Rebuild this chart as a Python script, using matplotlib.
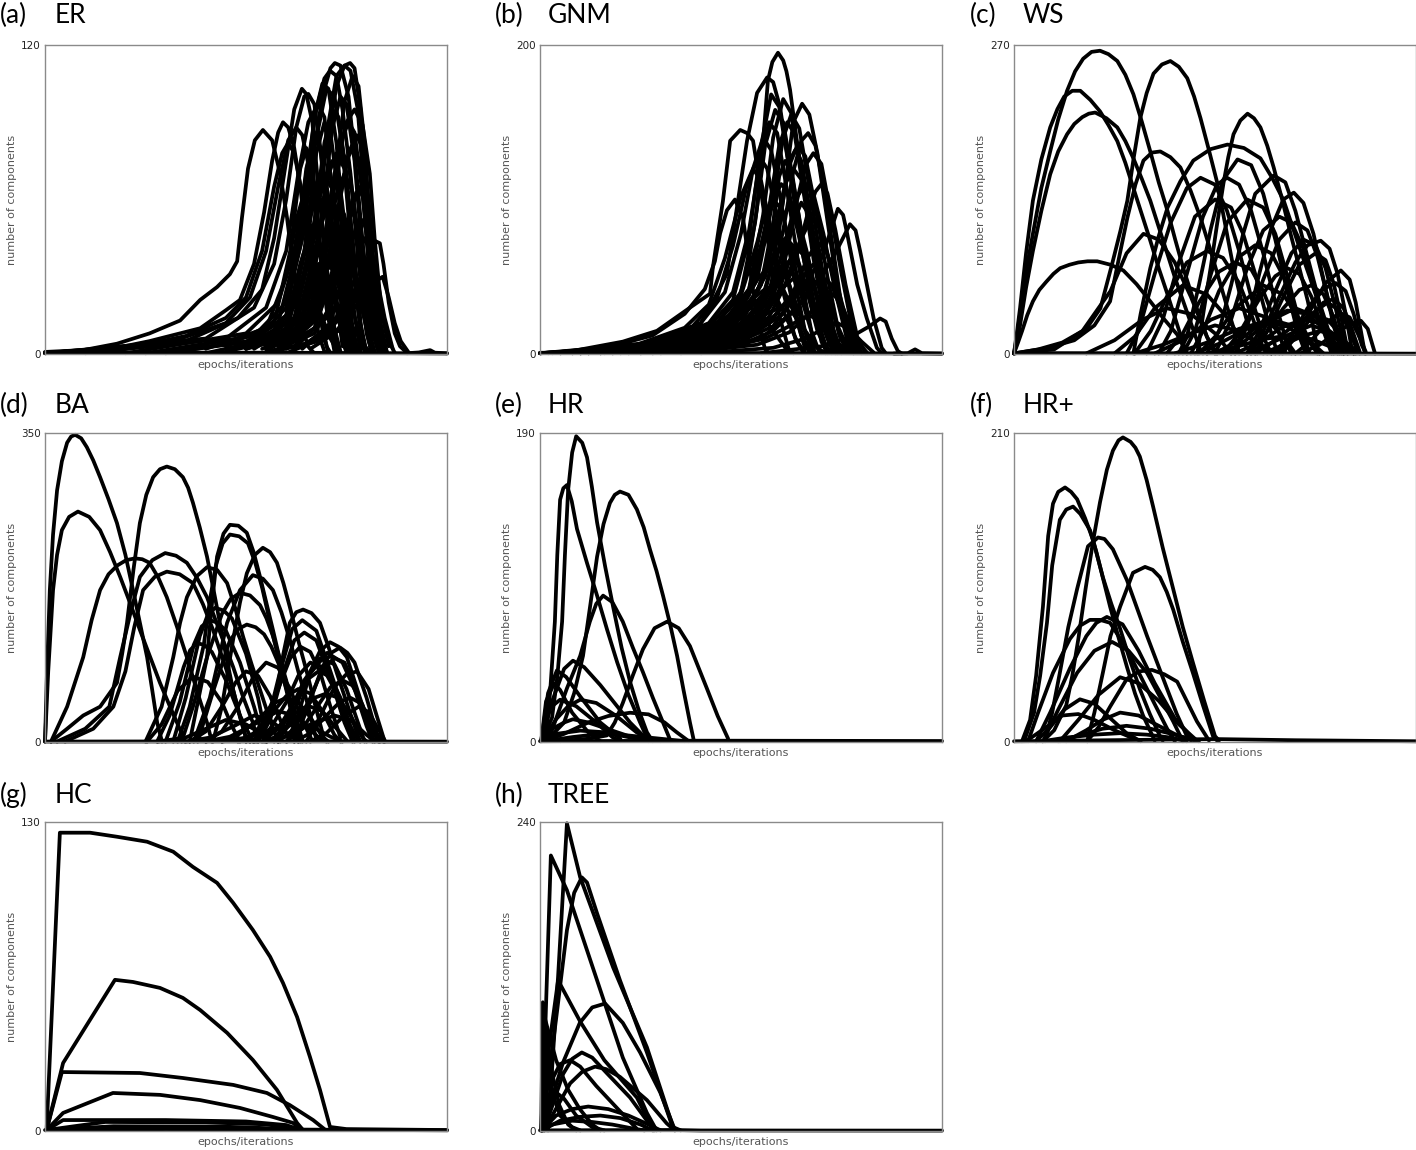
import matplotlib.pyplot as plt

# panel tags, names and y-axis top values
panel_tags = ['(a)', '(b)', '(c)', '(d)', '(e)', '(f)', '(g)', '(h)']
panel_names = ['ER', 'GNM', 'WS', 'BA', 'HR', 'HR+', 'HC', 'TREE']
y_max = [120, 200, 270, 350, 190, 210, 130, 240]

# every curve: (x in % of the run, number of components)
er_curves = [
    [(0, 0.8), (9.5, 1.5), (17.9, 4), (26, 8), (33.6, 13), (38.6, 21), (42.8, 26), (46, 31), (47.8, 36), (49, 53),
     (50.5, 72), (52.2, 83), (54.2, 87), (56.5, 83), (58.5, 70), (60.2, 53), (61.7, 34), (63.4, 14), (65.4, 3), (66.7, 0.8)],
    [(0, 0.5), (15, 1.5), (26, 5), (38.6, 10), (45, 17), (48.5, 21), (52, 35), (54.5, 55), (56.5, 75), (58, 86),
     (59.2, 90), (60.5, 88), (62, 80), (63.5, 65), (65, 45), (66.5, 25), (68, 8), (69.5, 1)],
    [(0, 0.5), (20, 2), (35, 7), (45, 14), (50, 22), (54, 40), (57, 65), (59, 78), (60.5, 82), (62, 78), (64, 62),
     (66, 40), (68, 18), (70, 3), (71, 0.5)],
    [(0, 0.3), (30, 4), (45, 12), (51, 22), (55, 40), (58, 65), (60.5, 83), (62.5, 88), (64, 85), (66, 70), (68, 45),
     (70, 20), (72, 4), (73, 0.5)],
    [(0, 0.3), (35, 5), (48, 14), (54, 25), (57, 45), (60, 75), (62, 95), (63.9, 103), (65, 101), (66.5, 90), (68, 65),
     (70, 35), (72, 10), (73.5, 1)],
    [(0, 0.3), (40, 6), (52, 18), (57, 35), (60, 60), (62.5, 88), (64.5, 100), (65.5, 101), (67, 97), (68.5, 80),
     (70, 55), (72, 25), (74, 5), (75, 0.5)],
    [(10, 0.3), (45, 6), (55, 18), (60, 40), (63, 70), (65.5, 90), (67.9, 97), (69.5, 92), (71, 70), (73, 40),
     (75, 12), (76.5, 1)],
    [(20, 0.3), (50, 8), (58, 20), (62, 40), (65, 70), (67.5, 95), (69.5, 107), (70.9, 110), (72.5, 108), (74, 95),
     (76, 70), (78, 35), (80, 8), (81.5, 0.5)],
    [(25, 0.3), (52, 7), (60, 20), (64, 45), (66.5, 75), (69, 100), (71, 111), (72.1, 113), (73.5, 112), (75.5, 100),
     (77.5, 70), (79.5, 35), (81.5, 8), (83, 0.5)],
    [(30, 0.3), (55, 6), (63, 20), (67, 45), (70, 80), (72.5, 104), (74.5, 112), (75.9, 113), (77, 111), (78.5, 95),
     (80, 65), (81.5, 35), (83, 12), (84.5, 1)],
    [(30, 0.3), (56, 6), (63, 22), (67, 50), (70, 85), (72.5, 108), (74.5, 112), (76, 110), (77.8, 95), (79.5, 60),
     (81, 30), (83, 6), (84, 0.5)],
    [(25, 0.3), (52, 5), (60, 18), (64, 45), (67, 80), (70, 103), (72, 100), (74, 80), (76, 45), (78, 15), (79.5, 1)],
    [(40, 0.3), (62, 8), (68, 30), (72, 70), (75, 90), (77, 95), (79, 89), (80.8, 70), (82, 45), (83.5, 20),
     (85.5, 5), (87, 0.5)],
    [(55, 0.3), (68, 5), (74, 15), (78, 28), (80.5, 38), (82, 44), (83.3, 43), (84.2, 35), (85.5, 20), (87, 8),
     (88.3, 3), (90, 0.5)],
    [(60, 0.3), (72, 8), (78, 20), (82, 28), (84, 30), (85.5, 22), (87, 12), (88.5, 5), (90.5, 0.5)],
    [(40, 2), (55, 10), (60, 30), (62.5, 52), (64, 60), (65.5, 55), (67, 35), (69, 10), (70.5, 0.5)],
    [(45, 3), (57, 12), (61, 40), (63.5, 72), (65, 80), (66.5, 74), (68, 50), (70, 18), (72, 1)],
    [(50, 3), (60, 12), (63.5, 35), (66.5, 50), (68.5, 42), (70.5, 20), (72.5, 2)],
    [(48, 3), (58, 12), (62.5, 40), (65, 72), (67, 85), (68.5, 80), (70, 60), (72, 28), (74, 3)],
    [(52, 3), (61, 14), (65, 42), (67, 62), (68.5, 70), (70, 66), (72, 45), (74, 15), (75.5, 1)],
    [(50, 3), (60, 12), (64.5, 40), (67.5, 78), (69.5, 90), (71, 86), (73, 62), (75, 28), (77, 2)],
    [(55, 3), (63, 14), (67, 40), (70.5, 60), (72.5, 55), (74.5, 30), (76.5, 5), (77.5, 0.5)],
    [(52, 3), (62, 14), (66.5, 45), (69.5, 82), (71.5, 95), (73, 92), (75, 70), (77, 35), (79, 4)],
    [(56, 3), (64, 15), (68, 45), (70.5, 70), (72.5, 78), (74.5, 72), (76.5, 45), (78.5, 12), (80, 0.5)],
    [(55, 3), (64, 14), (68.5, 50), (71.5, 88), (73.5, 100), (75, 97), (77, 75), (79, 38), (81, 5), (82, 0.5)],
    [(58, 3), (66, 15), (70, 40), (72.5, 62), (74.5, 70), (76.5, 63), (78.5, 38), (80.5, 10), (82, 0.5)],
    [(57, 3), (66, 15), (70.5, 50), (73.5, 82), (75.5, 90), (77, 86), (79, 62), (81, 28), (83, 3)],
    [(60, 3), (68, 14), (72, 35), (74.5, 50), (76.5, 55), (78.5, 48), (80.5, 25), (82.5, 5), (83.5, 0.5)],
    [(58, 3), (67, 15), (72, 48), (75.5, 78), (77.5, 85), (79, 80), (80.5, 60), (82, 30), (84, 4)],
    [(62, 3), (70, 14), (74, 38), (76.5, 58), (78.5, 65), (80, 58), (81.5, 38), (83.5, 12), (85, 1)],
    [(64, 3), (72, 12), (76, 30), (79.5, 45), (81.5, 38), (83.5, 18), (85.5, 3)],
    [(50, 2), (60, 8), (64.5, 22), (68, 35), (70.5, 30), (73, 14), (75, 2)],
    [(55, 2), (64, 9), (68.5, 26), (72, 40), (74.5, 34), (77, 15), (79, 2)],
    [(58, 2), (67, 8), (71.5, 20), (75, 30), (77.5, 26), (80, 10), (82, 1)],
    [(50, 2), (60, 6), (66, 15), (70, 25), (72.5, 20), (75, 8), (77, 1)],
    [(45, 1), (57, 5), (62.5, 12), (66, 20), (68.5, 16), (71, 6), (73, 0.5)],
    [(62, 2), (70, 8), (75, 18), (78, 25), (80.5, 20), (83, 8), (85, 1)],
    [(66, 2), (74, 10), (78, 24), (81, 35), (82.5, 30), (84.5, 14), (86.5, 2)],
    [(55, 1), (65, 4), (70, 9), (73.5, 15), (76, 12), (79, 4), (81, 0.5)],
    [(60, 3), (68, 20), (71.5, 60), (74.5, 98), (76.5, 108), (78, 104), (79.5, 82), (81, 45), (82.5, 15), (84, 1)],
    [(50, 3), (60, 15), (64, 50), (67, 92), (69, 105), (70.5, 103), (72.5, 82), (74.5, 45), (76.5, 10), (78, 0.5)],
    [(55, 2), (64, 12), (68, 40), (70, 65), (71.5, 75), (73, 70), (75, 45), (77, 15), (78.5, 1)],
    [(58, 2), (66, 14), (70, 45), (72.5, 70), (74, 78), (75.5, 74), (77.5, 50), (79.5, 18), (81, 1)],
    [(52, 2), (62, 12), (66, 40), (68.5, 62), (70, 68), (71.5, 64), (73.5, 42), (75.5, 14), (77, 1)],
    [(60, 2), (68, 16), (72, 48), (75, 75), (76.5, 80), (78, 76), (79.5, 55), (81, 25), (82.5, 3)],
    [(56, 2), (65, 12), (69, 38), (71.5, 55), (73, 58), (74.5, 54), (76.5, 34), (78.5, 10), (80, 0.5)],
    [(62, 2), (70, 15), (74, 42), (76.5, 60), (78, 64), (79.5, 60), (81, 40), (82.5, 15), (84, 1)],
    [(50, 2), (60, 10), (64.5, 32), (67.5, 55), (69, 60), (70.5, 56), (72.5, 36), (74.5, 10), (76, 0.5)],
    [(64, 2), (71, 12), (75, 35), (77.5, 50), (79, 52), (80.5, 46), (82, 28), (83.5, 8), (85, 0.5)],
    [(58, 2), (67, 10), (71, 28), (73.5, 40), (75, 42), (76.5, 38), (78.5, 22), (80.5, 5), (81.5, 0.5)],
    [(54, 2), (63, 8), (67, 22), (69.5, 32), (71, 34), (72.5, 30), (74.5, 16), (76.5, 3)],
    [(90, 0.3), (93, 0.6), (95.8, 1.5), (97, 0.5), (100, 0.3)],
    [(0, 0.6), (60, 0.5), (91, 0.3), (100, 0.2)],
]

gnm_curves = [
    [(0, 0.5), (15, 2), (25, 5), (35, 10), (42, 18), (48, 26), (51.5, 52), (54, 95), (55.5, 138), (56.7, 177),
     (57.8, 189), (59.2, 195), (60.5, 190), (61.3, 183), (62.2, 171), (63.9, 138), (66.4, 95), (69.7, 52), (73.9, 19),
     (76.5, 4), (78, 0.5)],
    [(0, 0.5), (20, 3), (32, 9), (40, 20), (43, 34), (46.5, 52), (49, 95), (51.5, 138), (54, 169), (56.5, 179),
     (58, 176), (59.7, 160), (62.2, 117), (65.4, 73), (69.7, 30), (73.9, 4), (75, 0.5)],
    [(0, 0.5), (8.2, 2), (20.6, 8), (29.1, 15), (37.3, 30), (42.3, 39), (43, 56), (45.5, 99), (47.3, 138), (49.8, 145),
     (51.5, 143), (53, 138), (54.7, 110), (56.5, 78), (58, 45), (59.7, 23), (62, 2), (63, 0.5)],
    [(0, 0.5), (15, 3), (28, 12), (36, 26), (41, 42), (43.5, 60), (44.8, 78), (46.5, 93), (48.5, 100), (50.5, 88),
     (52.2, 56), (54, 23), (56, 3), (57, 0.5)],
    [(10, 0.5), (35, 6), (48, 18), (56, 40), (59.5, 80), (61.5, 120), (63, 150), (65.2, 162), (67, 155), (69, 130),
     (71, 95), (73, 60), (75, 28), (77.5, 3)],
    [(10, 0.5), (38, 6), (50, 18), (57, 40), (60.5, 80), (63, 118), (65, 138), (66.7, 143), (68.5, 135), (70.5, 110),
     (72.5, 75), (74.5, 40), (76.5, 10), (78, 0.5)],
    [(30, 0.5), (50, 8), (60, 25), (66, 45), (70, 62), (72.1, 78), (74.1, 94), (75.4, 90), (76.4, 78), (78.9, 45),
     (81.3, 23), (83.8, 4), (85, 0.5)],
    [(35, 0.5), (55, 10), (64, 30), (70, 50), (74, 68), (77.1, 84), (78.5, 80), (79.6, 67), (81.3, 45), (83, 23),
     (85, 4), (86, 0.5)],
    [(55, 0.5), (70, 5), (78, 12), (82, 18), (84.6, 23), (86, 21), (87.5, 10), (89, 2), (90, 0.3)],
    [(5, 0.5), (30, 6), (42, 18), (48, 35), (52, 75), (55, 135), (57.5, 168), (59.5, 160), (62, 120), (65, 70),
     (68, 30), (71, 5), (72.5, 0.5)],
    [(8, 0.5), (32, 7), (44, 20), (50, 40), (53.5, 85), (56, 135), (58.5, 158), (60.5, 150), (63, 112), (66, 62),
     (69, 22), (71.5, 2)],
    [(10, 0.5), (34, 7), (46, 20), (52, 42), (55.5, 90), (58, 140), (60.5, 165), (62.5, 156), (65, 115), (68, 62),
     (71, 20), (73.5, 1)],
    [(12, 0.5), (36, 8), (47, 22), (53, 45), (57, 95), (59.5, 135), (61.5, 150), (63.5, 142), (66, 105), (69, 55),
     (72, 15), (74, 1)],
    [(15, 0.5), (38, 8), (48, 22), (54, 48), (58, 100), (60.5, 140), (62.5, 155), (64.5, 146), (67, 108), (70, 58),
     (73, 16), (75, 1)],
    [(5, 0.5), (30, 7), (42, 20), (48, 40), (52, 80), (55, 130), (57, 150), (59, 143), (61.5, 105), (64.5, 55),
     (67.5, 15), (69.5, 1)],
    [(3, 0.5), (28, 7), (40, 20), (46, 40), (50, 78), (53, 120), (55.5, 140), (57.5, 132), (60, 98), (63, 52),
     (66, 14), (68, 1)],
    [(2, 0.5), (26, 7), (38, 18), (44, 36), (48, 70), (51.5, 110), (54.5, 128), (56.5, 120), (59, 88), (62, 45),
     (65, 12), (67, 1)],
    [(0, 0.5), (24, 6), (36, 17), (42, 32), (46, 62), (50, 102), (53, 120), (55, 112), (57.5, 80), (60.5, 40),
     (63.5, 10), (65.5, 1)],
    [(18, 0.5), (40, 8), (50, 24), (56, 50), (60, 95), (62, 122), (64, 135), (66, 128), (68.5, 95), (71.5, 50),
     (74.5, 12), (76.5, 1)],
    [(16, 0.5), (38, 8), (49, 22), (55, 45), (59, 88), (61, 110), (63, 120), (65, 113), (67.5, 82), (70.5, 42),
     (73.5, 10), (75.5, 1)],
    [(12, 0.5), (35, 8), (46, 22), (52, 42), (56, 80), (58, 100), (60, 110), (62, 104), (64.5, 75), (67.5, 38),
     (70.5, 8), (72.5, 0.5)],
    [(8, 0.5), (32, 7), (44, 20), (50, 38), (54, 72), (56, 92), (58, 100), (60, 94), (62.5, 68), (65.5, 32),
     (68.5, 6), (70, 0.5)],
    [(15, 0.5), (38, 7), (48, 20), (54, 40), (58, 72), (60, 88), (62, 95), (64, 90), (66.5, 65), (69.5, 30),
     (72, 6), (73.5, 0.5)],
    [(20, 0.5), (42, 8), (52, 22), (58, 45), (62, 82), (64, 102), (66, 110), (68, 104), (70.5, 78), (73.5, 40),
     (76.5, 8), (78, 0.5)],
    [(25, 0.5), (45, 8), (55, 22), (61, 45), (64.5, 72), (67.5, 88), (69.5, 83), (72, 60), (75, 28), (78, 4), (79, 0.5)],
    [(28, 0.5), (48, 8), (57, 20), (63, 40), (66.5, 62), (69, 72), (71, 68), (73.5, 48), (76.5, 20), (79, 2)],
    [(12, 0.5), (36, 7), (47, 18), (53, 35), (57, 58), (61, 75), (63, 70), (65.5, 50), (68.5, 22), (71, 3)],
    [(8, 0.5), (32, 6), (44, 15), (50, 30), (54, 48), (58, 60), (60.5, 55), (63, 38), (66, 14), (68.5, 1)],
    [(15, 0.5), (40, 6), (50, 15), (56, 28), (60, 42), (63.5, 50), (66, 45), (68.5, 30), (71.5, 10), (73.5, 0.5)],
    [(5, 0.5), (30, 5), (42, 12), (48, 22), (52, 34), (56, 42), (58.5, 38), (61, 25), (64, 8), (66, 0.5)],
    [(18, 0.5), (42, 5), (52, 12), (58, 24), (62, 35), (65, 40), (67.5, 36), (70, 22), (73, 6), (75, 0.5)],
    [(30, 0.5), (50, 6), (58, 15), (64, 30), (67.5, 44), (70, 50), (72.5, 45), (75, 28), (78, 8), (80, 0.5)],
    [(35, 0.5), (54, 6), (62, 14), (67, 26), (70, 36), (72, 40), (74.5, 35), (77, 20), (80, 5), (81.5, 0.5)],
    [(10, 0.5), (35, 4), (46, 10), (53, 20), (57, 27), (60, 30), (63, 26), (66, 15), (69, 4), (71, 0.5)],
    [(25, 0.5), (46, 4), (56, 10), (62, 18), (65, 23), (67, 25), (70, 21), (73, 11), (76, 2)],
    [(0, 0.5), (25, 4), (37, 10), (44, 18), (49, 26), (52, 30), (55, 26), (58, 15), (61, 4), (63, 0.5)],
    [(40, 0.5), (58, 4), (66, 10), (71, 17), (74, 20), (77, 16), (80, 8), (83, 1)],
    [(28, 0.5), (48, 8), (57, 24), (63, 55), (66.5, 90), (68.5, 105), (70, 110), (71.5, 104), (73.5, 80), (76, 45),
     (79, 10), (81, 0.5)],
    [(22, 0.5), (44, 8), (54, 24), (60, 55), (64, 100), (66, 122), (68, 130), (70, 123), (72, 95), (75, 52),
     (78, 12), (80, 0.5)],
    [(20, 0.5), (44, 8), (54, 25), (58, 60), (60.5, 100), (62, 125), (63.5, 132), (65, 125), (67, 95), (70, 45),
     (72.5, 8), (74, 0.5)],
    [(15, 0.5), (40, 7), (50, 20), (55, 45), (58, 85), (59.5, 115), (61, 125), (62.5, 118), (64.5, 88), (67.5, 40),
     (70, 8), (71.5, 0.5)],
    [(25, 0.5), (46, 8), (55, 22), (60, 50), (63, 85), (65, 98), (66.5, 92), (68.5, 68), (71, 35), (73.5, 6), (75, 0.5)],
    [(10, 0.5), (36, 6), (47, 18), (52, 38), (55.5, 70), (57.5, 82), (59, 78), (61, 55), (63.5, 25), (66, 3)],
    [(22, 0.5), (44, 6), (54, 18), (59, 38), (62, 60), (64, 68), (66, 63), (68, 45), (70.5, 18), (73, 2)],
    [(18, 0.5), (42, 6), (52, 18), (57, 35), (60.5, 55), (62.5, 62), (64.5, 57), (66.5, 40), (69, 15), (71.5, 1)],
    [(28, 0.5), (48, 6), (58, 18), (63, 36), (66, 52), (68, 58), (70, 53), (72, 36), (74.5, 12), (77, 1)],
    [(12, 0.5), (38, 5), (48, 14), (53, 28), (56.5, 42), (58.5, 46), (60.5, 42), (63, 28), (66, 8), (68, 0.5)],
    [(88, 0.3), (91.5, 0.5), (93.3, 3), (95, 0.5), (100, 0.3)],
    [(0, 0.8), (60, 0.6), (88, 0.4), (100, 0.3)],
]

ws_curves = [
    [(0, 0.5), (0.7, 15), (1.5, 35), (3, 72), (4.7, 105), (6.8, 145), (9, 177), (11, 205), (13.2, 230), (15.2, 247),
     (17.2, 258), (19.3, 264), (21.4, 265), (23.5, 262), (25.7, 256), (27.7, 244), (29.7, 227), (31.8, 203),
     (33.9, 177), (36, 150), (38.2, 125), (40.1, 100), (42.1, 75), (44.2, 52), (46.4, 31), (48, 15), (49.6, 3),
     (50.5, 0.5)],
    [(0, 0.5), (0.7, 18), (1.5, 40), (3, 88), (4.7, 134), (6.8, 170), (9, 198), (10.8, 214), (12.5, 225), (14.5, 230),
     (16.5, 230), (19, 222), (21.4, 212), (23.5, 200), (25.7, 186), (27.7, 167), (29.7, 145), (31.8, 122), (33.9, 99),
     (36, 75), (38.2, 52), (40.2, 30), (42.1, 9), (43, 0.5)],
    [(0, 0.5), (0.7, 10), (1.5, 25), (3, 58), (4.7, 90), (6.8, 125), (9, 157), (11, 177), (13.2, 192), (15, 201),
     (17, 207), (18.6, 210), (20.2, 211), (23, 206), (25.7, 198), (27.7, 186), (29.7, 171), (31.8, 153), (33.9, 134),
     (36, 111), (38.2, 87), (40.1, 66), (42.1, 46), (44.3, 24), (46.4, 3), (47, 0.5)],
    [(0, 0.5), (1, 10), (2, 20), (3.3, 34), (4.7, 46), (6.3, 56), (8, 63), (9.8, 70), (11.5, 75), (13.8, 78), (16, 80),
     (18.3, 81), (20.7, 81), (24, 78), (27.2, 73), (30.5, 61), (33.9, 46), (37.2, 31), (40.6, 17), (43, 0.5)],
    [(0, 0.5), (6, 4), (12, 10), (18, 22), (21.5, 40), (24.5, 80), (26.5, 108), (28.2, 134), (29.8, 172), (31.4, 206),
     (33, 228), (34.7, 245), (36.8, 253), (38.9, 256), (41, 251), (43.1, 241), (44.8, 225), (46.4, 206), (48.5, 178),
     (50.6, 149), (52.6, 112), (54.6, 75), (56.8, 43), (58.9, 17), (60.5, 0.5)],
    [(45.6, 0.5), (47.2, 38), (48.9, 75), (50.5, 113), (52.1, 149), (53.3, 172), (54.6, 192), (56.3, 204),
     (58.1, 210), (59.7, 206), (61.3, 198), (63, 182), (64.6, 163), (66.7, 135), (68.8, 105), (71, 75), (73.1, 46),
     (74.5, 22), (75.6, 3), (76, 0.5)],
    [(29.7, 0.5), (31.5, 35), (33.9, 75), (36, 103), (38.2, 128), (41.4, 151), (44.6, 169), (48.9, 179), (53.1, 183),
     (57.2, 180), (61.3, 171), (64.2, 154), (67.1, 134), (69.2, 112), (71.3, 90), (73.5, 68), (75.6, 46), (77.7, 24),
     (79.8, 3), (80.5, 0.5)],
    [(0, 0.5), (8, 5), (15, 12), (20, 25), (23.9, 46), (26, 82), (28.2, 119), (30.2, 148), (32.2, 169), (34.3, 176),
     (36.4, 177), (38.9, 172), (41.4, 163), (43.9, 143), (46.4, 119), (48.5, 95), (50.6, 70), (52.6, 46), (54.6, 23),
     (56, 0.5)],
    [(41, 0.5), (43, 15), (46, 60), (49, 110), (52, 152), (55.6, 170), (59, 165), (62, 140), (65, 100), (68, 55),
     (70.5, 20), (72.5, 1)],
    [(48, 0.5), (51, 20), (54, 60), (57, 105), (60, 140), (64.6, 156), (67.5, 150), (70, 125), (73, 85), (76, 45),
     (79, 12), (81, 0.5)],
    [(55, 0.5), (58, 25), (61, 70), (64, 110), (67, 135), (69.6, 141), (72, 132), (74.5, 105), (77, 65), (79.5, 25),
     (81.5, 1)],
    [(28, 0.5), (31, 20), (35, 70), (39, 115), (43, 145), (46.4, 154), (50, 148), (53, 125), (56, 90), (59, 50),
     (62, 15), (64, 0.5)],
    [(33, 0.5), (37, 30), (41, 80), (45, 120), (50, 135), (54, 128), (57, 105), (60, 70), (63, 30), (65.5, 1)],
    [(50, 0.5), (54, 30), (58, 75), (62, 108), (66, 120), (69, 115), (72, 92), (75, 55), (77.5, 20), (79.5, 0.5)],
    [(58.9, 0.5), (62, 20), (66, 50), (70, 80), (73, 95), (76.3, 99), (78.5, 92), (80.5, 70), (82.5, 35), (84, 5),
     (84.5, 0.5)],
    [(66.8, 0.5), (70, 15), (74, 40), (77.5, 62), (81.3, 73), (83.5, 65), (85, 45), (86.3, 20), (87.3, 0.5)],
    [(71.3, 0.5), (76, 8), (80, 18), (83.5, 26), (86.3, 29), (88, 22), (89, 10), (89.8, 0.5)],
    [(60, 0.5), (63, 20), (67, 50), (71, 78), (75, 88), (77.5, 82), (79.5, 62), (81.5, 30), (83, 3)],
    [(54, 0.5), (58, 25), (62, 65), (66, 100), (70, 115), (73, 108), (75.5, 85), (78, 50), (80.5, 15), (82, 0.5)],
    [(58, 0.5), (61, 20), (65, 55), (69, 88), (72, 100), (75, 95), (77.5, 75), (80, 40), (82, 10), (83, 0.5)],
    [(0, 0.5), (10, 4), (17, 20), (20, 35), (24, 55), (28, 88), (32.2, 105), (36, 100), (40, 80), (44, 50), (48, 15),
     (50.5, 0.5)],
    [(44, 0.5), (47, 20), (51, 55), (56, 85), (60, 95), (64, 88), (67, 68), (70, 35), (72.5, 5)],
    [(38, 0.5), (42, 18), (46, 45), (51, 72), (55, 80), (59, 74), (62, 55), (65, 28), (67.5, 1)],
    [(30, 0.5), (34, 20), (38, 50), (43, 80), (48, 90), (52, 84), (56, 62), (59, 35), (62, 5), (63, 0.5)],
    [(25, 0.5), (30, 15), (35, 40), (42, 60), (48, 52), (53, 32), (57, 10), (59, 0.5)],
    [(46, 0.5), (50, 15), (55, 40), (62, 60), (67, 52), (71, 30), (74, 8), (75.5, 0.5)],
    [(52, 0.5), (56, 18), (61, 48), (65, 68), (68, 75), (71, 70), (74, 50), (77, 20), (79, 0.5)],
    [(58, 0.5), (62, 15), (67, 40), (71, 56), (74, 60), (77, 52), (79.5, 32), (81.5, 10), (83, 0.5)],
    [(64, 0.5), (68, 12), (72, 30), (78, 45), (81, 38), (83.5, 20), (85.5, 2)],
    [(52, 0.5), (57, 10), (63, 28), (70, 40), (75, 33), (79, 15), (81.5, 0.5)],
    [(35, 0.5), (42, 12), (49, 30), (56, 40), (62, 33), (67, 15), (70, 0.5)],
    [(45, 0.5), (51, 9), (58, 22), (64, 30), (70, 24), (74, 10), (77, 0.5)],
    [(18, 0.5), (25, 12), (32, 30), (38, 40), (44, 35), (50, 18), (54, 0.5)],
    [(30, 0.5), (37, 8), (44, 18), (50, 25), (56, 20), (61, 8), (64, 0.5)],
    [(58, 0.5), (63, 8), (69, 18), (74, 25), (78, 20), (82, 8), (84.5, 0.5)],
    [(65, 0.5), (69, 15), (73, 40), (77, 57), (80, 62), (82.5, 55), (84.5, 35), (86.5, 8), (87.5, 0.5)],
    [(36, 0.5), (39, 20), (43, 70), (47, 120), (50.5, 148), (53, 154), (56, 148), (59, 125), (62, 88), (65, 45),
     (68, 8), (69, 0.5)],
    [(42, 0.5), (45, 20), (49, 70), (53, 115), (58, 135), (62, 128), (65, 105), (68, 68), (71, 28), (73.5, 1)],
    [(50, 0.5), (56, 12), (62, 28), (68, 38), (73, 35), (77, 22), (80, 8), (82, 0.5)],
    [(55, 0.5), (61, 10), (67, 24), (72, 30), (76, 27), (80, 16), (83, 5), (84.5, 0.5)],
    [(60, 0.5), (65, 12), (70, 26), (74.5, 33), (78, 30), (81, 18), (83.5, 5), (85, 0.5)],
    [(40, 0.5), (48, 10), (56, 22), (62, 28), (68, 24), (73, 12), (76, 0.5)],
    [(62, 0.5), (67, 8), (72, 16), (76, 20), (80, 17), (83, 9), (86, 0.5)],
    [(48, 0.5), (55, 6), (62, 13), (68, 16), (74, 13), (79, 6), (82, 0.5)],
    [(66, 0.5), (70, 14), (74, 32), (77, 45), (79.5, 48), (82, 40), (84, 22), (86, 2)],
    [(70, 0.5), (74, 12), (78, 28), (81, 36), (83.5, 32), (85.5, 18), (87.5, 2)],
    [(0, 0.8), (60, 0.6), (90, 0.4), (100, 0.3)],
]

ba_curves = [
    [(0, 0.5), (0.5, 80), (1.2, 172), (2, 235), (3, 285), (4.2, 318), (5.5, 339), (6.5, 346), (7.5, 348), (9, 344),
     (10.4, 334), (12, 319), (13.7, 300), (15.8, 275), (17.9, 248), (20, 212), (21.9, 172), (23.7, 133), (25.4, 96),
     (26.7, 58), (27.9, 22), (29.1, 0.5)],
    [(0, 0.5), (0.8, 80), (2, 172), (3, 212), (4.2, 240), (6, 255), (8.2, 261), (11, 255), (13.7, 240), (16.2, 215),
     (18.7, 187), (21.2, 157), (23.6, 127), (26.1, 97), (28.6, 67), (31.1, 40), (33.6, 14), (34.8, 0.5)],
    [(1.5, 0.5), (5.5, 15), (9.5, 30), (13.7, 40), (17.9, 67), (19.2, 100), (20.4, 135), (22, 195), (23.6, 248),
     (25.2, 280), (26.9, 300), (28.6, 309), (30.3, 312), (32.3, 309), (34.3, 300), (35.6, 288), (36.8, 271),
     (38.5, 243), (40.3, 210), (41.9, 173), (43.5, 135), (45.1, 96), (46.8, 59), (48.5, 28), (50.2, 2), (51, 0.5)],
    [(1.5, 0.5), (5.5, 40), (9.5, 96), (11.6, 138), (13.7, 172), (15.8, 190), (18, 200), (20.2, 206), (22.4, 208),
     (24.2, 207), (26, 203), (28.2, 186), (30.3, 164), (32.8, 131), (35.3, 96), (37.8, 58), (40.3, 22), (41.5, 0.5)],
    [(3, 0.5), (10, 15), (16, 40), (18.7, 96), (21.2, 145), (23.6, 187), (26.7, 206), (29.9, 214), (32.6, 211),
     (35.3, 203), (37.8, 186), (40.3, 164), (43.5, 125), (46.8, 85), (49.2, 52), (51.7, 22), (53, 0.5)],
    [(5, 0.5), (12, 15), (17, 40), (20, 80), (22.2, 130), (24.4, 172), (27.3, 187), (30.3, 193), (33.5, 190),
     (36.8, 180), (39.3, 156), (41.8, 127), (44.3, 93), (46.8, 59), (50, 4), (51, 0.5)],
    [(25, 0.5), (29, 40), (31.9, 96), (33.6, 135), (35.3, 164), (37.8, 188), (40.3, 198), (42.8, 195), (45.3, 180),
     (47.3, 152), (49.3, 119), (51.4, 88), (53.5, 59), (55.6, 30), (57.7, 4), (58.5, 0.5)],
    [(34, 0.5), (36.8, 40), (40.3, 96), (41.6, 160), (42.8, 210), (44.4, 236), (46, 246), (48.1, 245), (50.2, 237),
     (51.9, 215), (53.5, 187), (55.1, 157), (56.7, 127), (58.5, 92), (60.2, 59), (61.8, 30), (63.4, 6), (64, 0.5)],
    [(33, 0.5), (36, 40), (39.5, 110), (41, 160), (42.5, 200), (44.2, 225), (46, 235), (48.3, 233), (50.5, 225),
     (52.3, 203), (54, 175), (55.5, 145), (57, 115), (58.8, 82), (60.5, 50), (62.5, 5), (63, 0.5)],
    [(41.8, 0.5), (44, 40), (46.8, 116), (48.5, 158), (50.2, 191), (52.2, 212), (54.2, 220), (56, 215), (57.7, 203),
     (59.3, 180), (60.9, 153), (63, 115), (65.2, 78), (67.3, 40), (69.4, 4), (70, 0.5)],
    [(37, 0.5), (41, 50), (45.3, 135), (48.5, 172), (51.7, 189), (54.2, 185), (56.7, 172), (58.8, 147), (60.9, 116),
     (63, 80), (65.2, 45), (67.5, 3)],
    [(36, 0.5), (40.3, 96), (44, 145), (46.2, 162), (48.5, 169), (51, 166), (53.5, 155), (55.1, 140), (56.7, 120),
     (58.3, 96), (60, 70), (62.5, 15), (63.5, 0.5)],
    [(38, 0.5), (42, 60), (46, 115), (48.1, 128), (50.2, 133), (52.4, 130), (54.5, 122), (56.3, 108), (58, 90),
     (61.5, 40), (64, 3)],
    [(31.9, 0.5), (35, 50), (38.5, 120), (40.4, 143), (42.3, 152), (44.4, 149), (46.5, 140), (50, 100), (53, 50),
     (55.2, 0.5)],
    [(30, 0.5), (33.5, 45), (37, 110), (39, 131), (41, 138), (43, 135), (45, 126), (48.5, 90), (52, 40), (54.5, 0.5)],
    [(27.9, 0.5), (31, 30), (34.5, 85), (36.1, 104), (37.8, 112), (39.6, 110), (41.5, 102), (45, 70), (48.5, 30),
     (51.7, 0.5)],
    [(25.4, 0.5), (29, 20), (33, 58), (36.8, 74), (40.5, 68), (44, 45), (46.5, 18), (48.5, 0.5)],
    [(52, 0.5), (55, 20), (57.7, 59), (59.3, 100), (60.9, 135), (62.5, 147), (64.2, 150), (66.3, 146), (68.4, 135),
     (70.5, 108), (72.6, 78), (76.7, 22), (78.4, 0.5)],
    [(52.5, 0.5), (55.5, 25), (58.5, 80), (61.5, 128), (64, 138), (67.5, 126), (71, 80), (75, 25), (77, 0.5)],
    [(53, 0.5), (56, 25), (59, 75), (62, 115), (64.5, 124), (67.5, 115), (71, 72), (74.5, 22), (76.5, 0.5)],
    [(60.2, 0.5), (63, 30), (66, 80), (68.4, 103), (70.9, 113), (73, 108), (75.1, 96), (78, 55), (81.6, 4), (83.3, 0.5)],
    [(62, 0.5), (65, 35), (69, 85), (71.2, 101), (73.4, 107), (75.2, 101), (77, 90), (80, 50), (82.5, 10), (84.2, 0.5)],
    [(65, 0.5), (68, 25), (72, 62), (74.8, 76), (77.6, 80), (80.5, 60), (82.5, 30), (84.5, 0.5)],
    [(58, 0.5), (61.5, 30), (65.5, 75), (70.2, 101), (74, 90), (77, 60), (80, 18), (81.5, 0.5)],
    [(57, 0.5), (60.5, 30), (64.5, 70), (68.5, 95), (72, 88), (75, 60), (78, 20), (79.5, 0.5)],
    [(52, 0.5), (56, 15), (60, 45), (63, 75), (66, 90), (69, 85), (72, 60), (75, 25), (77, 2)],
    [(54, 0.5), (58, 15), (62, 45), (65, 70), (68, 80), (71, 74), (73.5, 50), (76, 18), (78, 1)],
    [(58, 0.5), (62, 15), (66, 50), (69, 82), (72, 95), (74.5, 90), (77, 65), (79.5, 28), (81.5, 2)],
    [(60, 0.5), (64, 15), (68, 42), (71, 62), (74, 70), (76.5, 64), (79, 42), (81.5, 12), (83, 0.5)],
    [(48, 0.5), (52, 10), (56, 30), (60, 52), (63, 60), (66, 55), (69, 35), (72, 8), (73.5, 0.5)],
    [(44, 0.5), (48, 8), (53, 25), (57, 44), (60, 50), (63, 45), (66, 28), (69, 6), (70.5, 0.5)],
    [(55, 0.5), (59, 10), (63, 30), (67, 50), (70, 55), (73, 50), (76, 30), (79, 5), (80, 0.5)],
    [(62, 0.5), (66, 10), (70, 30), (73.5, 46), (76, 50), (78.5, 44), (81, 25), (83, 4)],
    [(50, 0.5), (55, 8), (60, 24), (63.5, 37), (66, 40), (69, 35), (72, 18), (75, 2)],
    [(40, 0.5), (46, 6), (52, 20), (58, 35), (62, 30), (66, 14), (69, 1)],
    [(55, 0.5), (60, 6), (66, 20), (72, 30), (76, 25), (79.5, 10), (82, 0.5)],
    [(35, 0.5), (41, 5), (47, 18), (52, 30), (56, 25), (60, 10), (63, 0.5)],
    [(28, 0.5), (35, 5), (40, 15), (45, 25), (50, 20), (55, 6), (58, 0.5)],
    [(44, 0.5), (50, 5), (56, 13), (62, 20), (67, 16), (71, 6), (74, 0.5)],
    [(66, 0.5), (70, 10), (74, 28), (78, 40), (80.5, 34), (82.5, 18), (84.5, 2)],
    [(40, 0.5), (44, 12), (48, 40), (52, 75), (55, 90), (58, 84), (61, 60), (64, 25), (66.5, 1)],
    [(36, 0.5), (40, 12), (44, 40), (47.5, 68), (50, 80), (53, 75), (56, 52), (59, 20), (61, 1)],
    [(50, 0.5), (54, 20), (58, 60), (61, 95), (63.5, 108), (66, 102), (68.5, 78), (71, 40), (73.5, 5)],
    [(0, 0.5), (80, 0.8), (85, 0.5), (100, 0.4)],
]

hr_curves = [
    [(0.4, 0.5), (3, 15), (4.3, 40), (5.5, 74), (6.2, 115), (7, 155), (8, 178), (9, 188), (10.5, 184), (11.7, 175),
     (12.9, 157), (14.2, 135), (16.2, 108), (18.2, 83), (20.3, 58), (22.4, 37), (24.5, 20), (26.6, 6), (28, 0.5)],
    [(1.2, 0.5), (2.5, 30), (3.7, 74), (4.3, 115), (5, 149), (5.8, 156), (6.7, 158), (7.9, 148), (9.2, 131),
     (11.7, 110), (14.2, 90), (16.7, 69), (19.2, 49), (22, 29), (24.9, 12), (27, 0.5)],
    [(1.5, 0.5), (6, 12), (8.5, 30), (10.7, 53), (12.5, 84), (14.2, 114), (15.8, 134), (17.4, 147), (18.6, 152),
     (19.9, 154), (22, 152), (24.1, 143), (25.8, 132), (27.4, 118), (29, 105), (30.6, 90), (32.4, 72), (34.1, 53),
     (35.7, 32), (37.3, 12), (38.3, 0.5)],
    [(2, 0.5), (6.7, 33), (10, 53), (12.4, 74), (14, 85), (15.7, 90), (18, 86), (20.6, 74), (23.1, 58), (25.6, 43),
     (28.1, 27), (30.6, 12), (32.5, 0.5)],
    [(5, 0.5), (12, 2), (16.6, 4), (18.6, 12), (20.6, 24), (23.1, 41), (25.6, 57), (28.5, 70), (31.6, 74), (34.5, 70),
     (37.3, 59), (39.4, 46), (41.5, 33), (44.2, 16), (46.8, 2)],
    [(0.5, 0.5), (3, 25), (6, 45), (8.2, 50), (11, 46), (15, 35), (22.4, 12), (27, 0.5)],
    [(0.3, 0.5), (2, 30), (4.2, 44), (6.5, 40), (10, 28), (15, 12), (20, 2)],
    [(0.5, 0.5), (4, 14), (7, 22), (10, 26), (14, 24), (19, 16), (24, 6), (28, 0.5)],
    [(1, 0.5), (6, 5), (12, 12), (17, 16), (22.4, 18), (27, 17), (31, 12), (34, 6), (37, 0.5)],
    [(0.5, 0.5), (3, 8), (6, 12), (8.2, 14), (12, 12), (18, 7), (24, 2), (28, 0.5)],
    [(0.5, 0.5), (4, 5), (10, 7), (16, 6), (22, 3), (30, 0.5)],
    [(1, 0.5), (8, 3), (15, 5), (22, 4), (30, 2), (36, 0.5)],
    [(0.3, 0.5), (1.5, 25), (3.5, 36), (5, 32), (8, 18), (12, 6), (15, 0.5)],
    [(0.3, 0.5), (2, 20), (5, 26), (9, 22), (14, 12), (18, 3), (20, 0.5)],
    [(0, 0.5), (40, 0.8), (47, 0.8), (100, 0.6)],
]

hrp_curves = [
    [(7.2, 0.5), (10, 8), (13, 25), (14.5, 45), (16, 70), (17.8, 104), (19.7, 137), (21.4, 163), (23.1, 185),
     (24.6, 198), (26, 205), (27.1, 207), (29, 204), (30.2, 200), (31.3, 194), (33, 178), (34.6, 160), (37, 132),
     (39.6, 104), (42, 78), (44.5, 54), (47.3, 28), (50, 4), (51, 1)],
    [(2, 0.5), (4, 15), (5.5, 45), (7.2, 92), (8.5, 140), (9.7, 162), (11, 170), (12.7, 173), (14.2, 170),
     (15.7, 165), (17.7, 152), (19.7, 137), (21.8, 115), (23.9, 92), (26, 71), (28.1, 51), (30.1, 33), (32.1, 18),
     (35, 1)],
    [(2.5, 0.5), (5, 20), (6.5, 45), (8.2, 81), (9.5, 120), (11.4, 151), (13, 158), (14.7, 160), (16.5, 155),
     (18.9, 144), (20.5, 129), (22.1, 112), (24.2, 94), (26.4, 77), (28.8, 56), (31.3, 36), (33.8, 19), (36.3, 4),
     (37, 1)],
    [(7.7, 0.5), (9.5, 20), (11.4, 47), (13.5, 78), (15.7, 104), (18.4, 133), (20.9, 139), (22.5, 138), (24.6, 131),
     (28.1, 110), (30.6, 91), (33.1, 72), (35.6, 54), (38.1, 36), (40.5, 19), (43, 4), (44, 1)],
    [(18.2, 0.5), (20, 20), (22.1, 47), (24, 72), (26.4, 92), (29.6, 115), (32.6, 119), (34.5, 117), (36.3, 112),
     (38, 102), (39.6, 90), (42, 68), (44.5, 47), (47, 25), (49.5, 4), (50.5, 1)],
    [(3.5, 0.5), (6, 20), (9.7, 47), (13.9, 70), (16.4, 79), (18.9, 83), (21.4, 83), (23.9, 81), (28.1, 63),
     (33.1, 36), (38.1, 9), (40, 0.5)],
    [(5.5, 0.5), (9, 20), (13.9, 50), (18, 72), (20.5, 81), (23.1, 85), (27, 80), (31, 62), (35, 40), (40, 16), (45, 1)],
    [(7.2, 0.5), (11, 22), (15.7, 47), (20, 62), (24.4, 68), (28.5, 62), (33.1, 47), (39.6, 14), (42, 0.5)],
    [(18.2, 0.5), (21, 10), (23.9, 24), (28.1, 43), (31.2, 48), (34.3, 49), (37.4, 46), (40.6, 41), (45.5, 14),
     (48.5, 1)],
    [(11.4, 0.5), (16, 15), (21, 32), (26.4, 44), (31, 40), (36, 28), (41, 12), (45.5, 1)],
    [(5.5, 0.5), (9, 10), (12.5, 22), (16.4, 29), (20, 26), (24, 16), (28, 6), (31.5, 0.5)],
    [(13, 0.5), (18, 8), (22, 15), (26.4, 20), (31, 18), (36, 11), (41, 4), (46, 0.5)],
    [(11, 0.5), (17, 5), (22, 9), (28, 11), (34, 9), (40, 5), (45, 1)],
    [(7, 0.5), (13, 3), (20, 5), (26.4, 6), (33, 5), (39, 3), (43, 0.5)],
    [(3, 0.5), (8, 10), (12, 18), (16, 19), (20, 15), (25, 8), (30, 2)],
    [(0, 0.5), (50, 2), (70, 1.2), (100, 0.5)],
]

hc_curves = [
    [(0.4, 0.4), (3.7, 125.5), (11.2, 125.5), (17.9, 123.8), (25.4, 121.7), (31.9, 117.5), (36.8, 111.1),
     (42.8, 104.4), (46.8, 96), (51.7, 84.6), (56, 73.3), (59.2, 62.3), (62.7, 48), (65.9, 31.2), (68.4, 17.3),
     (70.9, 1.7), (75, 0.8), (100, 0.4)],
    [(0.4, 0.4), (4.5, 28.6), (17.4, 63.6), (21.9, 62.7), (28.6, 60.2), (34.3, 56), (38.6, 50.9), (45.3, 41.3),
     (51.7, 29.9), (57.7, 17.3), (62.7, 3.4), (64, 0.8)],
    [(0.4, 0.4), (4.2, 24.8), (23.6, 24.4), (34.3, 22.3), (46.8, 19.4), (55.2, 16), (60.9, 10.9), (66.7, 4.6),
     (69.5, 0.8)],
    [(0.4, 0.4), (4.5, 7.6), (16.9, 16), (28.6, 15.2), (38.6, 13), (48.5, 9.7), (56.7, 5.9), (61.7, 3.4), (63.5, 0.8)],
    [(0.4, 0.4), (4.5, 4.6), (30, 4.6), (50, 4), (60, 2.5), (63, 0.8)],
    [(0.4, 0.4), (15, 3.8), (40, 3.6), (55, 2.8), (62, 1)],
    [(0.4, 0.4), (17, 2), (45, 1.8), (62, 0.8)],
    [(0, 0.4), (30, 0.8), (63, 0.6), (100, 0.3)],
]

tree_curves = [
    [(2, 0.5), (4.5, 120), (6.7, 239), (10, 197), (18.2, 127), (26.6, 65), (33.1, 3), (35, 0.5)],
    [(0.5, 0.5), (1.7, 117), (2.7, 214), (6.7, 187), (14.2, 117), (20.6, 57), (26.6, 14), (29, 0.5)],
    [(0.5, 0.5), (4.2, 92), (6.7, 156), (8.5, 185), (10.4, 197), (11.7, 193), (14.2, 169), (19.9, 117), (26.6, 61),
     (33.1, 2)],
    [(0.3, 0.5), (2, 60), (4.5, 117), (10, 85), (16, 55), (24.1, 26), (28.2, 0.5)],
    [(0.5, 0.5), (5.7, 53), (9.9, 84), (13, 96), (16.2, 99), (20.6, 84), (24.9, 61), (29.9, 30), (33.6, 0.5)],
    [(1, 0.5), (5.7, 44), (8, 56), (10.4, 61), (13, 57), (16.6, 45), (22.4, 26), (26.6, 8), (28.5, 0.5)],
    [(1, 0.5), (7.5, 37), (10.5, 46), (13.7, 50), (16.5, 48), (19.9, 42), (26.6, 24), (31.5, 6), (33.5, 0.5)],
    [(0.3, 0.5), (0.7, 100), (1.5, 80), (3, 45), (4.8, 20), (7, 5), (9, 0.5)],
    [(0.5, 0.5), (1, 90), (4, 55), (7, 32), (9.9, 17), (13, 5), (15, 0.5)],
    [(1, 0.5), (3, 40), (5, 52), (7.5, 55), (10, 50), (14, 35), (20, 15), (24, 2)],
    [(0.5, 0.5), (4, 12), (8, 17), (12, 19), (17, 17), (22, 12), (27, 5), (30, 0.5)],
    [(0.5, 0.5), (5, 8), (10, 11), (15, 12), (20, 10), (25, 5), (28, 0.5)],
    [(0.5, 0.5), (3, 5), (8, 8), (13, 7), (18, 5), (23, 2), (26, 0.5)],
    [(0.3, 0.5), (1.2, 70), (3, 30), (5, 12), (8, 3), (10, 0.5)],
    [(0.5, 0.5), (2, 25), (4, 30), (6, 25), (9, 12), (13, 3), (16, 0.5)],
    [(0, 0.5), (33, 0.8), (40, 0.4), (100, 0.3)],
]

all_curves = [er_curves, gnm_curves, ws_curves, ba_curves, hr_curves, hrp_curves, hc_curves, tree_curves]

W, H = 1416, 1150
fig = plt.figure(figsize=(W / 100, H / 100), dpi=100)

col_left = [45, 540, 1014]
row_top = [45, 433, 822]
ax_w, ax_h = 402, 309
tag_base = [23, 413, 803]
tag_x = [0, 495, 970]
name_x = [55, 548, 1023]

for i in range(8):
    row, col = divmod(i, 3)
    ax = fig.add_axes([col_left[col] / W, 1 - (row_top[row] + ax_h) / H, ax_w / W, ax_h / H])
    for c in all_curves[i]:
        xs = [p[0] for p in c]
        ys = [p[1] for p in c]
        ax.plot(xs, ys, color='black', lw=2.7, solid_joinstyle='round', solid_capstyle='round', clip_on=False)
    ax.set_xlim(0, 100)
    ax.set_ylim(0, y_max[i])
    ax.set_xticks([])
    ax.set_yticks([0, y_max[i]])
    ax.tick_params(axis='y', length=0, pad=3, labelsize=7.5, labelcolor='#222222')
    for s in ax.spines.values():
        s.set_color('#8a8a8a')
        s.set_linewidth(1.0)
    ax.set_ylabel('number of components', fontsize=8, color='#555555')
    ax.yaxis.set_label_coords(-0.07, 0.5)
    ax.set_xlabel('epochs/iterations', fontsize=8, color='#555555')
    ax.xaxis.set_label_coords(0.5, -0.02)

    fig.text(tag_x[col] / W, 1 - tag_base[row] / H, panel_tags[i], fontsize=19,
             family=['Lato', 'DejaVu Sans'], va='baseline', ha='left')
    fig.text(name_x[col] / W, 1 - tag_base[row] / H, panel_names[i], fontsize=19,
             family=['Lato', 'DejaVu Sans'], va='baseline', ha='left')

fig.savefig('out.png', dpi=100)
